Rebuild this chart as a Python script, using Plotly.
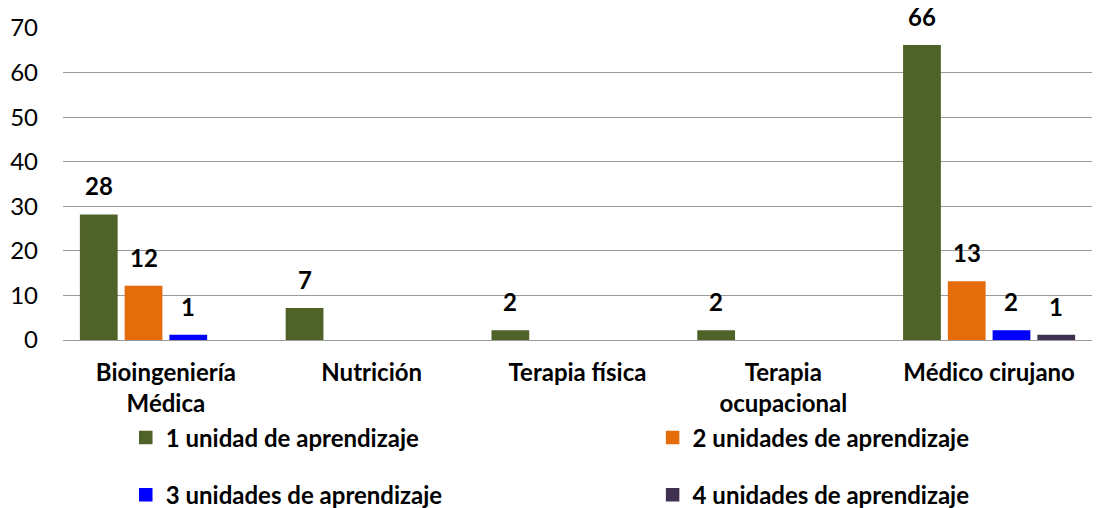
import plotly.graph_objects as go

# Data
categories = ['Bioingeniería<br>Médica', 'Nutrición', 'Terapia física', 'Terapia<br>ocupacional', 'Médico cirujano']
series_names = ['1 unidad de aprendizaje', '2 unidades de aprendizaje',
                '3 unidades de aprendizaje', '4 unidades de aprendizaje']
uno = [28, 7, 2, 2, 66]
dos = [12, None, None, None, 13]
tres = [1, None, None, None, 2]
cuatro = [None, None, None, None, 1]
series_values = [uno, dos, tres, cuatro]
colors = ['#4f6228', '#e46c0a', '#0000ff', '#403152']

FONT = 'Lato'
FS = 24
bargap = 0.13
n = len(series_values)

# legend placement (paper coords relative to plot area), one legend per entry
legend_pos = [(0.061, -0.314), (0.573, -0.314), (0.061, -0.497), (0.573, -0.497)]
legend_ids = ['legend', 'legend2', 'legend3', 'legend4']

fig = go.Figure()
annotations = []
for i, (name, vals, col) in enumerate(zip(series_names, series_values, colors)):
    fig.add_trace(go.Bar(
        name=name,
        x=categories,
        y=vals,
        marker=dict(color=col, line=dict(color=col, width=1.5)),
        legend=legend_ids[i],
        showlegend=True,
    ))
    # value labels above bars, offset to the bar's slot within the group
    for j, v in enumerate(vals):
        if v is None:
            continue
        annotations.append(dict(
            x=j + (i - (n - 1) / 2) * (1 - bargap) / n, y=v, xref='x', yref='y',
            text=f'<b>{v}</b>', showarrow=False, yanchor='bottom', yshift=13,
            font=dict(family=FONT, size=FS, color='black')))

legends = {}
for lid, (lx, ly) in zip(legend_ids, legend_pos):
    legends[lid] = dict(orientation='h', x=lx, xanchor='left', y=ly, yanchor='middle',
                        itemwidth=30, font=dict(family=FONT, size=FS, weight='bold'),
                        bgcolor='rgba(0,0,0,0)')

fig.update_layout(
    showlegend=True,
    barmode='group',
    bargap=bargap,
    bargroupgap=0.19,
    width=1097, height=508,
    margin=dict(l=63, r=5, t=28, b=168, autoexpand=False),
    paper_bgcolor='white',
    plot_bgcolor='white',
    font=dict(family=FONT, size=FS, color='black'),
    annotations=annotations,
    xaxis=dict(showgrid=False, showline=False, ticks='', automargin=False,
               tickfont=dict(family=FONT, size=FS, weight='bold'),
               ticklabelstandoff=16),
    yaxis=dict(range=[0, 70], dtick=10, showgrid=True, gridcolor='#9a9a9a', gridwidth=1,
               zeroline=True, zerolinecolor='#9a9a9a', zerolinewidth=1, automargin=False,
               showline=False, ticks='', ticklabelstandoff=24,
               tickfont=dict(family=FONT, size=FS)),
    **legends,
)

fig.write_html('out.html', config={'displayModeBar': False},
               post_script="document.body.style.margin='0';")
